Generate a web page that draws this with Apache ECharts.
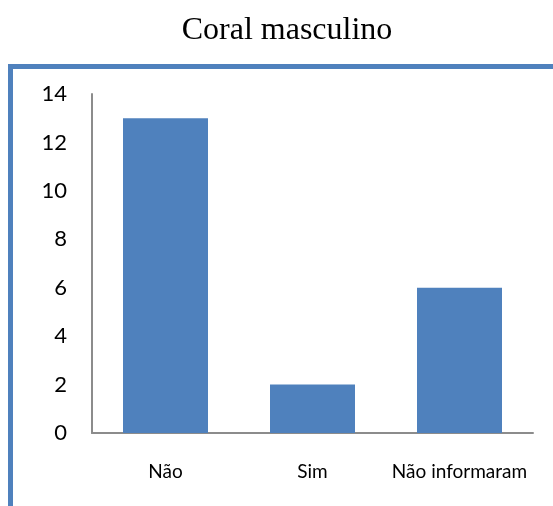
<!DOCTYPE html>
<html>
<head>
<meta charset="utf-8">
<script src="https://cdn.jsdelivr.net/npm/echarts@6/dist/echarts.min.js"></script>
<style>
html, body { margin: 0; padding: 0; background: #fff; }
#chart { width: 553px; height: 506px; }
</style>
</head>
<body>
<div id="chart"></div>
<script>
const titleText = 'Coral masculino'
const categories = ['Não', 'Sim', 'Não informaram']
const values = [13, 2, 6]
const yTicks = { min: 0, max: 14, interval: 2 }

const myChart = echarts.init(document.getElementById('chart'))
const option = {
    animation: false,
    title: {
        text: titleText,
        left: 282,
        top: 10,
        textAlign: 'center',
        textStyle: {
            fontFamily: 'Liberation Serif',
            fontWeight: 'normal',
            fontSize: 32,
            color: '#000'
        }
    },
    graphic: [
        {
            type: 'rect',
            shape: { x: 10.5, y: 66.5, width: 700, height: 600 },
            style: { fill: 'none', stroke: '#4F81BD', lineWidth: 5 },
            silent: true
        }
    ],
    grid: {
        left: 92,
        right: 20,
        top: 94,
        bottom: 73
    },
    xAxis: {
        type: 'category',
        data: categories,
        axisTick: { show: false },
        axisLine: { lineStyle: { color: '#8c8c8c', width: 2 } },
        axisLabel: {
            interval: 0,
            hideOverlap: false,
            margin: 29,
            fontFamily: 'Lato',
            fontSize: 19,
            color: '#000'
        }
    },
    yAxis: {
        type: 'value',
        min: yTicks.min,
        max: yTicks.max,
        interval: yTicks.interval,
        splitLine: { show: false },
        axisTick: { show: false },
        axisLine: { show: true, lineStyle: { color: '#8c8c8c', width: 2 } },
        axisLabel: {
            margin: 25,
            fontFamily: 'Lato',
            fontSize: 22,
            color: '#000'
        }
    },
    series: [
        {
            type: 'bar',
            data: values,
            barWidth: 85,
            itemStyle: { color: '#4F81BD' }
        }
    ]
}
myChart.setOption(option)
</script>
</body>
</html>
